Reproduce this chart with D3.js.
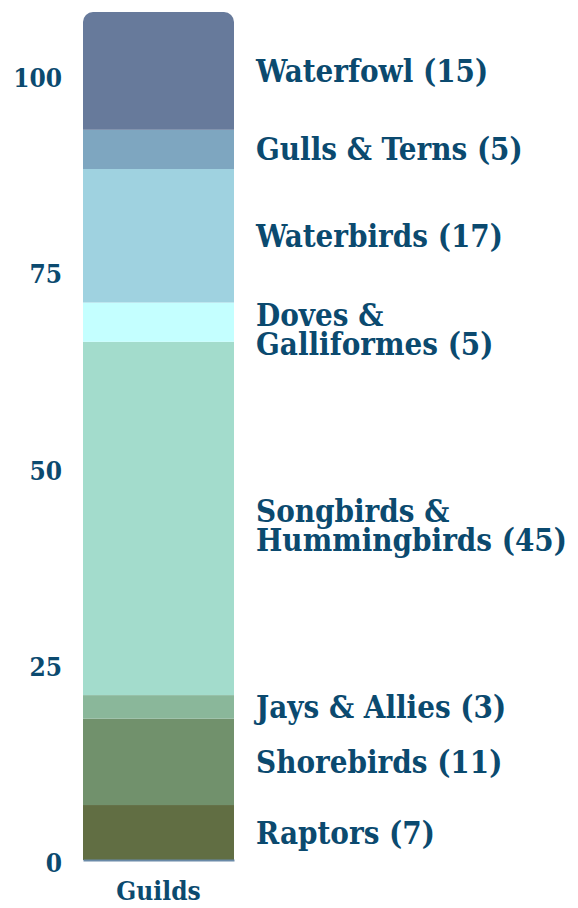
<!DOCTYPE html>
<html>
<head>
<meta charset="utf-8">
<script src="https://cdn.jsdelivr.net/npm/d3@7"></script>
<style>
  body { margin: 0; background: #fff; }
  text { font-family: "DejaVu Serif", serif; font-weight: bold; font-stretch: condensed; fill: #0b4a6f; }
</style>
</head>
<body>
<div id="chart"></div>
<script>
// Bird guilds, counted bottom to top
const guilds = ["Raptors", "Shorebirds", "Jays & Allies", "Songbirds & Hummingbirds",
    "Doves & Galliformes", "Waterbirds", "Gulls & Terns", "Waterfowl"];
const counts = [7, 11, 3, 45, 5, 17, 5, 15];
const colors = ["#616e43", "#71916c", "#8ab79a", "#a3dccc", "#c4ffff", "#9fd2e0", "#7ea6c0", "#677a9b"];
const labelLines = [
    ["Raptors (7)"],
    ["Shorebirds (11)"],
    ["Jays & Allies (3)"],
    ["Songbirds &", "Hummingbirds (45)"],
    ["Doves &", "Galliformes (5)"],
    ["Waterbirds (17)"],
    ["Gulls & Terns (5)"],
    ["Waterfowl (15)"],
];
const yTicks = [0, 25, 50, 75, 100];
const category = "Guilds";

let width = 578,
    height = 908,
    margin = { top: 12, right: 344, bottom: 48, left: 83 };

// Stack the counts
let stacked = [];
let acc = 0;
for (let i = 0; i < guilds.length; i++) {
    stacked.push({ guild: guilds[i], y0: acc, y1: acc + counts[i], color: colors[i], lines: labelLines[i] });
    acc += counts[i];
}

const svg = d3.select("#chart")
    .append("svg")
    .attr("width", width)
    .attr("height", height);

let x = d3.scaleBand()
    .domain([category])
    .range([margin.left, width - margin.right])
    .padding(0);

let y = d3.scaleLinear()
    .domain([0, acc])
    .range([height - margin.bottom, margin.top]);

// Rounded top corners
svg.append("clipPath")
    .attr("id", "barClip")
    .append("rect")
    .attr("x", x(category))
    .attr("y", y(acc))
    .attr("width", x.bandwidth())
    .attr("height", y(0) - y(acc) + 20)
    .attr("rx", 10);

svg.append("g")
    .attr("clip-path", "url(#barClip)")
    .selectAll("rect")
    .data(stacked)
    .join("rect")
    .attr("x", x(category))
    .attr("y", (d) => y(d.y1))
    .attr("width", x.bandwidth())
    .attr("height", (d) => y(d.y0) - y(d.y1))
    .attr("fill", (d) => d.color);

// Y axis
const yAxis = svg.append("g")
    .attr("transform", `translate(${margin.left},0)`)
    .call(d3.axisLeft(y).tickValues(yTicks).tickSize(0).tickPadding(21));
yAxis.select(".domain").remove();
yAxis.selectAll("text")
    .style("font-size", "26px")
    .attr("dy", "0.45em")
    .attr("fill", null);

// X axis
const xAxis = svg.append("g")
    .attr("transform", `translate(0,${y(0)})`)
    .call(d3.axisBottom(x).tickSize(0).tickPadding(22));
xAxis.select(".domain")
    .attr("stroke", "#6a8aa8")
    .attr("stroke-width", 2);
xAxis.selectAll("text")
    .style("font-size", "26px")
    .attr("fill", null);

// Segment labels
const lineHeight = 29;
const labels = svg.append("g")
    .selectAll("text")
    .data(stacked)
    .join("text")
    .attr("x", width - margin.right + 22)
    .attr("y", (d) => (y(d.y0) + y(d.y1)) / 2 + 11 - (d.lines.length - 1) * 7)
    .style("font-size", "31px");

labels.selectAll("tspan")
    .data((d) => d.lines)
    .join("tspan")
    .attr("x", width - margin.right + 22)
    .attr("dy", (d, i) => (i === 0 ? 0 : lineHeight))
    .text((d) => d);
</script>
</body>
</html>
